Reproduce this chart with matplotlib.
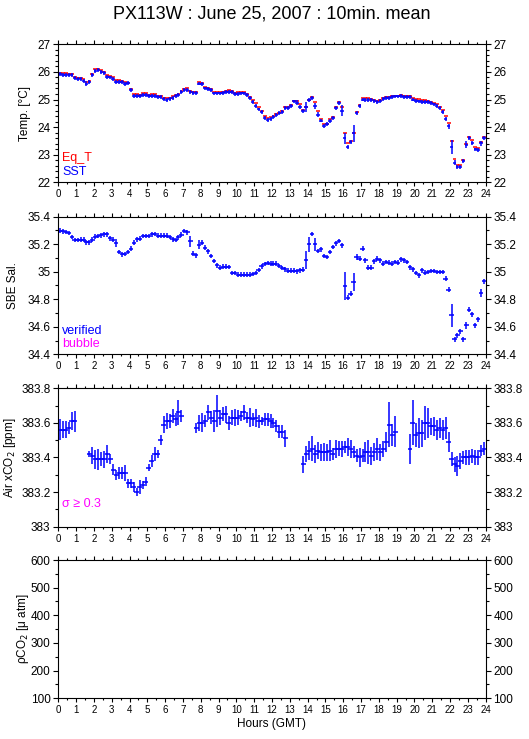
"""PX113W underway record, 10-min means for one day: temperature, salinity,
air xCO2 and (empty) pCO2 panels."""

import numpy as np
import matplotlib

matplotlib.use("Agg")
import matplotlib.pyplot as plt
from matplotlib.ticker import MultipleLocator, FuncFormatter

plt.rcParams["font.family"] = ["Liberation Sans", "DejaVu Sans"]

# ==================== Data ====================
# 144 ten-minute bins, plotted at bin centres
HOURS = (np.arange(144) + 0.5) / 6.0

EQ_T = [
    25.97, 25.97, 25.96, 25.94, 25.94, 25.83, 25.79, 25.79, 25.74, 25.64, 25.68, 25.92,
    26.09, 26.12, 26.06, 26.00, 25.90, 25.86, 25.80, 25.69, 25.69, 25.66, 25.62, 25.61,
    25.39, 25.19, 25.19, 25.17, 25.22, 25.22, 25.16, 25.19, 25.20, 25.14, 25.14, 25.07,
    25.04, 25.07, 25.11, 25.15, 25.21, 25.32, 25.38, 25.40, 25.32, 25.26, 25.26, 25.63,
    25.60, 25.45, 25.42, 25.38, 25.28, 25.28, 25.28, 25.28, 25.32, 25.34, 25.30, 25.25,
    25.27, 25.27, 25.26, 25.20, 25.08, 24.98, 24.86, 24.74, 24.59, 24.42, 24.33, 24.35,
    24.40, 24.47, 24.52, 24.58, 24.74, 24.74, 24.80, 24.96, 24.96, 24.82, 24.62, 24.74,
    25.00, 25.10, 24.90, 24.57, 24.30, 24.13, 24.13, 24.28, 24.35, 24.72, 24.92, 24.72,
    23.77, 23.41, 23.51, 23.80, 24.53, 24.81, 25.04, 25.07, 25.05, 25.03, 25.00, 24.95,
    24.98, 25.04, 25.09, 25.10, 25.13, 25.14, 25.14, 25.18, 25.14, 25.14, 25.14, 25.05,
    25.01, 25.01, 25.00, 25.00, 24.95, 24.91, 24.86, 24.82, 24.74, 24.62, 24.42, 24.16,
    23.51, 22.86, 22.61, 22.64, 22.82, 23.40, 23.65, 23.55, 23.29, 23.23, 23.47, 23.65,
]

SST = [
    25.91, 25.90, 25.90, 25.89, 25.90, 25.77, 25.73, 25.73, 25.68, 25.58, 25.63, 25.89,
    26.04, 26.07, 26.01, 25.95, 25.83, 25.80, 25.75, 25.65, 25.65, 25.62, 25.57, 25.59,
    25.34, 25.13, 25.13, 25.13, 25.16, 25.15, 25.13, 25.13, 25.13, 25.10, 25.08, 25.02,
    24.99, 25.03, 25.06, 25.13, 25.16, 25.28, 25.34, 25.34, 25.28, 25.25, 25.25, 25.58,
    25.57, 25.40, 25.37, 25.33, 25.22, 25.22, 25.22, 25.23, 25.28, 25.28, 25.26, 25.20,
    25.21, 25.22, 25.22, 25.16, 25.04, 24.92, 24.76, 24.64, 24.55, 24.34, 24.26, 24.30,
    24.37, 24.45, 24.50, 24.56, 24.70, 24.70, 24.78, 24.93, 24.88, 24.72, 24.57, 24.72,
    24.97, 25.05, 24.77, 24.45, 24.24, 24.03, 24.10, 24.22, 24.33, 24.68, 24.87, 24.60,
    23.60, 23.29, 23.45, 23.77, 24.50, 24.76, 25.00, 24.99, 24.99, 24.99, 24.96, 24.92,
    24.95, 25.01, 25.05, 25.07, 25.10, 25.11, 25.11, 25.12, 25.09, 25.08, 25.08, 25.00,
    24.96, 24.93, 24.92, 24.92, 24.90, 24.88, 24.82, 24.78, 24.68, 24.55, 24.30, 24.03,
    23.29, 22.71, 22.54, 22.54, 22.76, 23.37, 23.62, 23.43, 23.19, 23.16, 23.41, 23.62,
]

SST_SD = [
    0.07, 0.07, 0.07, 0.07, 0.07, 0.07, 0.07, 0.07, 0.07, 0.08, 0.08, 0.07,
    0.07, 0.07, 0.07, 0.07, 0.07, 0.07, 0.07, 0.07, 0.07, 0.07, 0.07, 0.07,
    0.08, 0.07, 0.07, 0.07, 0.07, 0.07, 0.07, 0.07, 0.07, 0.07, 0.07, 0.07,
    0.07, 0.07, 0.07, 0.07, 0.07, 0.07, 0.07, 0.07, 0.07, 0.07, 0.07, 0.07,
    0.07, 0.07, 0.07, 0.07, 0.07, 0.07, 0.07, 0.07, 0.07, 0.07, 0.07, 0.07,
    0.07, 0.07, 0.07, 0.07, 0.07, 0.07, 0.07, 0.07, 0.07, 0.07, 0.07, 0.07,
    0.07, 0.07, 0.07, 0.07, 0.07, 0.07, 0.07, 0.07, 0.09, 0.07, 0.07, 0.18,
    0.07, 0.07, 0.10, 0.08, 0.07, 0.07, 0.07, 0.07, 0.07, 0.07, 0.07, 0.20,
    0.20, 0.08, 0.07, 0.30, 0.07, 0.07, 0.07, 0.07, 0.07, 0.07, 0.07, 0.07,
    0.07, 0.07, 0.07, 0.07, 0.07, 0.07, 0.07, 0.07, 0.07, 0.07, 0.07, 0.07,
    0.07, 0.07, 0.07, 0.07, 0.07, 0.07, 0.07, 0.07, 0.07, 0.07, 0.07, 0.09,
    0.25, 0.09, 0.07, 0.07, 0.07, 0.12, 0.07, 0.07, 0.07, 0.07, 0.08, 0.07,
]

SAL = [
    35.298, 35.294, 35.289, 35.282, 35.252, 35.231, 35.231, 35.233, 35.233, 35.214, 35.214, 35.233,
    35.255, 35.260, 35.265, 35.272, 35.272, 35.243, 35.233, 35.209, 35.143, 35.127, 35.129, 35.143,
    35.168, 35.211, 35.236, 35.240, 35.260, 35.260, 35.260, 35.272, 35.274, 35.262, 35.262, 35.262,
    35.262, 35.252, 35.236, 35.231, 35.250, 35.270, 35.295, 35.285, 35.221, 35.131, 35.119, 35.197,
    35.211, 35.175, 35.148, 35.114, 35.078, 35.047, 35.030, 35.037, 35.037, 35.034, 34.991, 34.991,
    34.979, 34.979, 34.979, 34.979, 34.979, 34.984, 34.991, 35.013, 35.039, 35.056, 35.063, 35.059,
    35.059, 35.059, 35.042, 35.027, 35.017, 35.008, 35.008, 35.008, 35.003, 35.010, 35.015, 35.083,
    35.199, 35.274, 35.199, 35.151, 35.163, 35.114, 35.107, 35.143, 35.180, 35.206, 35.223, 35.192,
    34.896, 34.812, 34.841, 34.925, 35.107, 35.095, 35.168, 35.083, 35.030, 35.030, 35.076, 35.095,
    35.083, 35.059, 35.071, 35.066, 35.059, 35.071, 35.066, 35.090, 35.083, 35.071, 35.032, 35.017,
    34.991, 34.974, 35.010, 34.993, 34.998, 35.005, 35.005, 34.998, 34.998, 34.998, 34.950, 34.870,
    34.683, 34.509, 34.538, 34.567, 34.509, 34.611, 34.724, 34.690, 34.611, 34.654, 34.845, 34.930,
]

SAL_SD = [
    0.017, 0.017, 0.017, 0.017, 0.017, 0.017, 0.017, 0.017, 0.017, 0.017, 0.017, 0.017,
    0.017, 0.017, 0.017, 0.017, 0.017, 0.017, 0.017, 0.030, 0.017, 0.017, 0.017, 0.017,
    0.017, 0.017, 0.017, 0.017, 0.017, 0.017, 0.017, 0.017, 0.017, 0.017, 0.017, 0.017,
    0.017, 0.017, 0.017, 0.017, 0.017, 0.017, 0.017, 0.017, 0.042, 0.017, 0.017, 0.033,
    0.017, 0.017, 0.017, 0.017, 0.017, 0.017, 0.017, 0.017, 0.017, 0.017, 0.017, 0.017,
    0.017, 0.017, 0.017, 0.017, 0.017, 0.017, 0.017, 0.017, 0.017, 0.017, 0.017, 0.017,
    0.017, 0.017, 0.017, 0.017, 0.017, 0.017, 0.017, 0.017, 0.017, 0.017, 0.017, 0.065,
    0.055, 0.017, 0.046, 0.017, 0.017, 0.017, 0.017, 0.017, 0.017, 0.017, 0.017, 0.017,
    0.105, 0.017, 0.017, 0.067, 0.024, 0.020, 0.017, 0.017, 0.017, 0.017, 0.017, 0.017,
    0.017, 0.017, 0.017, 0.017, 0.017, 0.017, 0.017, 0.017, 0.017, 0.017, 0.017, 0.017,
    0.017, 0.017, 0.017, 0.017, 0.017, 0.017, 0.017, 0.017, 0.017, 0.017, 0.017, 0.017,
    0.085, 0.017, 0.017, 0.017, 0.017, 0.027, 0.017, 0.017, 0.017, 0.020, 0.030, 0.017,
]

NA = np.nan
XCO2 = [
    383.56, 383.56, 383.56, 383.57, 383.61, 383.61, NA, NA, NA, NA, 383.42, 383.41,
    383.39, 383.39, 383.39, 383.39, 383.42, 383.39, 383.33, 383.30, 383.31, 383.31, 383.31, 383.25,
    383.25, 383.23, 383.20, 383.23, 383.24, 383.26, 383.34, 383.38, 383.42, 383.42, 383.50, 383.59,
    383.61, 383.61, 383.64, 383.62, 383.66, 383.64, NA, NA, NA, NA, 383.57, 383.60,
    383.60, 383.61, 383.66, 383.63, 383.61, 383.67, 383.63, 383.65, 383.65, 383.60, 383.63, 383.63,
    383.63, 383.64, 383.66, 383.63, 383.63, 383.62, 383.63, 383.61, 383.61, 383.62, 383.62, 383.61,
    383.60, 383.58, 383.55, 383.55, 383.51, NA, NA, NA, NA, NA, 383.36, 383.42,
    383.44, 383.45, 383.42, 383.44, 383.43, 383.43, 383.43, 383.44, 383.42, 383.45, 383.45, 383.45,
    383.46, 383.46, 383.45, 383.43, 383.41, 383.40, 383.41, 383.43, 383.43, 383.41, 383.43, 383.45,
    383.43, 383.45, 383.49, 383.59, 383.53, 383.55, NA, NA, NA, NA, 383.45, 383.60,
    383.53, 383.54, 383.54, 383.60, 383.60, 383.58, 383.58, 383.56, 383.57, 383.56, 383.57, 383.49,
    383.39, 383.36, 383.35, 383.38, 383.40, 383.40, 383.40, 383.41, 383.40, 383.40, 383.44, 383.45,
]

XCO2_SD = [
    0.060, 0.050, 0.050, 0.035, 0.050, 0.060, NA, NA, NA, NA, 0.015, 0.050,
    0.055, 0.060, 0.040, 0.050, 0.050, 0.030, 0.030, 0.030, 0.035, 0.037, 0.048, 0.025,
    0.028, 0.030, 0.025, 0.040, 0.025, 0.025, 0.020, 0.035, 0.040, 0.025, 0.030, 0.050,
    0.045, 0.040, 0.040, 0.036, 0.070, 0.034, NA, NA, NA, NA, 0.030, 0.045,
    0.055, 0.036, 0.044, 0.038, 0.063, 0.093, 0.045, 0.040, 0.050, 0.040, 0.043, 0.048,
    0.043, 0.030, 0.046, 0.030, 0.056, 0.038, 0.053, 0.038, 0.025, 0.036, 0.038, 0.040,
    0.030, 0.034, 0.036, 0.040, 0.048, NA, NA, NA, NA, NA, 0.050, 0.048,
    0.053, 0.072, 0.053, 0.048, 0.048, 0.052, 0.048, 0.060, 0.034, 0.053, 0.044, 0.046,
    0.034, 0.053, 0.051, 0.034, 0.038, 0.056, 0.038, 0.058, 0.070, 0.053, 0.052, 0.063,
    0.050, 0.048, 0.058, 0.130, 0.065, 0.090, NA, NA, NA, NA, 0.087, 0.130,
    0.067, 0.087, 0.077, 0.100, 0.088, 0.050, 0.053, 0.058, 0.058, 0.057, 0.065, 0.058,
    0.042, 0.043, 0.058, 0.048, 0.037, 0.043, 0.043, 0.040, 0.043, 0.043, 0.031, 0.038,
]
# ===============================================

BLUE = "#0000ff"
RED = "#ff0000"
MAGENTA = "#ff00ff"
FIG_W, FIG_H = 529, 739
LEFT, WIDTH = 0.1102, 0.8079
PANELS = [  # bottom, height in figure fraction
    (0.7533, 0.1867),
    (0.5206, 0.1862),
    (0.2873, 0.1873),
    (0.0551, 0.1871),
]
LW = 1.1


def crosses(ax, y, xerr, yerr, color):
    # 10-min mean drawn as a "+" : horizontal bar over the bin, vertical bar = std
    return ax.errorbar(HOURS, y, xerr=xerr, yerr=yerr, fmt="none",
                       ecolor=color, elinewidth=LW)


def style_axis(ax, ylim, major, minor):
    ax.set_xlim(0, 24)
    ax.set_ylim(*ylim)
    ax.xaxis.set_major_locator(MultipleLocator(1))
    ax.xaxis.set_minor_locator(MultipleLocator(0.5))
    ax.yaxis.set_major_locator(MultipleLocator(major))
    ax.yaxis.set_minor_locator(MultipleLocator(minor))
    ax.yaxis.set_major_formatter(FuncFormatter(lambda v, p: f"{v:g}"))
    ax.xaxis.set_major_formatter(FuncFormatter(lambda v, p: f"{v:g}"))
    ax.tick_params(axis="both", which="both", direction="out", width=0.8,
                   top=True, right=True, labelright=True)
    ax.tick_params(axis="x", which="major", length=3.0, labelsize=7, pad=2)
    ax.tick_params(axis="x", which="minor", length=1.6)
    ax.tick_params(axis="y", which="major", length=3.6, labelsize=8.5, pad=2)
    ax.tick_params(axis="y", which="minor", length=2.2)
    for sp in ax.spines.values():
        sp.set_linewidth(0.8)


def side_label(fig, ax, text, x_px):
    pos = ax.get_position()
    fig.text(x_px / FIG_W, pos.y0 + pos.height / 2, text, rotation=90,
             ha="center", va="center", fontsize=8.5)


def main():
    fig = plt.figure(figsize=(FIG_W / 100, FIG_H / 100), dpi=100)
    axes = [fig.add_axes([LEFT, b, WIDTH, h]) for b, h in PANELS]
    ax1, ax2, ax3, ax4 = axes

    # temperature
    crosses(ax1, EQ_T, 0.11, None, RED)
    crosses(ax1, SST, 0.1, SST_SD, BLUE)
    style_axis(ax1, (22, 27), 1, 0.2)
    side_label(fig, ax1, "Temp. [°C]", 25)
    ax1.text(0.009, 0.176, "Eq_T", color=RED, fontsize=9, transform=ax1.transAxes, va="center")
    ax1.text(0.009, 0.075, "SST", color=BLUE, fontsize=9, transform=ax1.transAxes, va="center")

    # salinity
    crosses(ax2, SAL, 0.12, SAL_SD, BLUE)
    style_axis(ax2, (34.4, 35.4), 0.2, 0.1)
    side_label(fig, ax2, "SBE Sal.", 13)
    ax2.text(0.009, 0.17, "verified", color=BLUE, fontsize=9, transform=ax2.transAxes, va="center")
    ax2.text(0.009, 0.075, "bubble", color=MAGENTA, fontsize=9, transform=ax2.transAxes, va="center")

    # air xCO2
    crosses(ax3, XCO2, 0.14, XCO2_SD, BLUE)
    style_axis(ax3, (383, 383.8), 0.2, 0.1)
    side_label(fig, ax3, "Air xCO$_2$ [ppm]", 10)
    ax3.text(0.009, 0.164, "σ ≥ 0.3", color=MAGENTA, fontsize=9, transform=ax3.transAxes, va="center")

    # pCO2 (no data on this day)
    style_axis(ax4, (100, 600), 100, 50)
    side_label(fig, ax4, "ρCO$_2$ [μ atm]", 23)
    ax4.set_xlabel("Hours (GMT)", fontsize=8.5, labelpad=2)

    fig.text(0.514, 0.981, "PX113W : June 25, 2007 : 10min. mean",
             ha="center", va="center", fontsize=13)

    fig.savefig("out.png", dpi=100)
    plt.close(fig)


if __name__ == "__main__":
    main()
